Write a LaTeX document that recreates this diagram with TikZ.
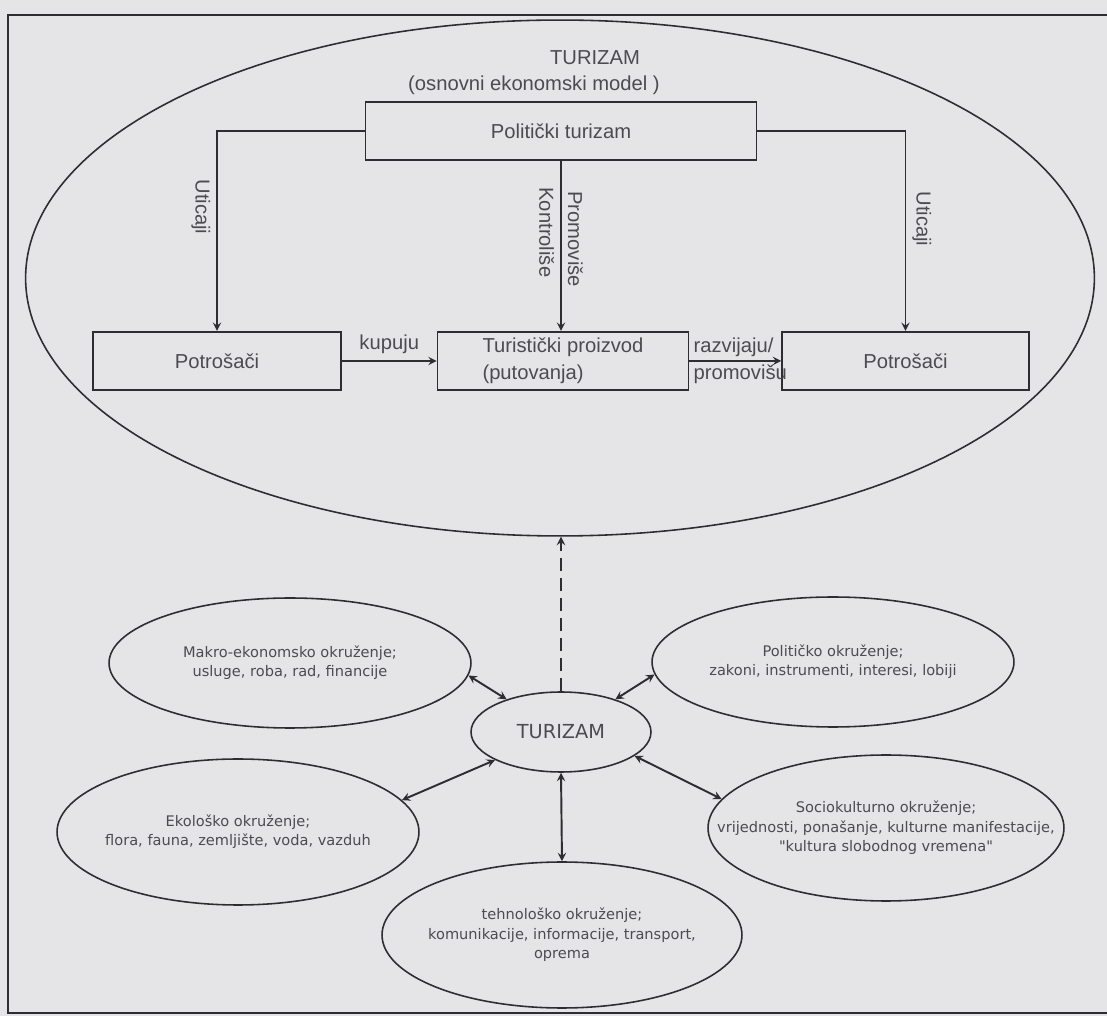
\documentclass[tikz,border=0pt]{standalone}
\usepackage{fontspec}
\setmainfont{Liberation Sans}
\newfontfamily\okrfont{DejaVu Sans}
\usepackage{tikz}
\usetikzlibrary{arrows, positioning, shapes.geometric}

\definecolor{papir}{RGB}{229,229,232}
\definecolor{linija}{RGB}{45,45,50}
\definecolor{tekst}{RGB}{75,75,80}

\tikzset{
  kutija/.style={draw, color=linija, line width=0.9pt, rectangle, minimum height=1.17cm, text=tekst, font=\fontsize{11.5}{15.4}\selectfont},
  okruzenje/.style={draw, color=linija, line width=0.9pt, ellipse, minimum width=7.24cm, minimum height=2.92cm, inner sep=0pt},
  okrtekst/.style={text=tekst, align=center, font=\okrfont\fontsize{8.3}{11}\selectfont},
  natpis/.style={text=tekst, font=\fontsize{11.5}{15.4}\selectfont},
  veza/.style={color=linija, line width=1.1pt},
}

\begin{document}
\begin{tikzpicture}[x=0.02cm, y=-0.02cm, auto]
\useasboundingbox (0,0) rectangle (1107,1016);
\fill[papir] (0,0) rectangle (1107,1016);
\draw[linija, line width=1pt] (1107,15) -- (8,15) -- (8,1013) -- (1107,1013);

% osnovni ekonomski model
\node[ellipse, draw, color=linija, line width=0.9pt, minimum width=21.38cm, minimum height=10.32cm] (model) at (560,278) {};
\node[natpis] (naslov) at (595,58) {TURIZAM};
\node[natpis] (podnaslov) at (534,85) {(osnovni ekonomski model )};

\node[kutija, minimum width=7.82cm] (P) at (561,131) {Politički turizam};
\node[kutija, minimum width=5.02cm, align=left] (T) at (563,361) {Turistički proizvod\\(putovanja)};
\node[kutija, minimum width=4.96cm] (K1) [left=1.9cm of T] {Potrošači};
\node[kutija, minimum width=4.94cm] (K2) [right=1.84cm of T] {Potrošači};

\draw[veza, ->, >=stealth] (P.west) -| node[natpis, pos=0.69, sloped, below] {Uticaji} (K1.north);
\draw[veza, ->, >=stealth] (P.east) -| node[natpis, pos=0.72, sloped, above] {Uticaji} (K2.north);
\draw[veza, ->, >=stealth] (P.south) -- node[natpis, pos=0.42, sloped, below] {Kontroliše}
  node[natpis, pos=0.46, sloped, above] {Promoviše} (P.south |- T.north);

\path[veza, ->, >=stealth] (K1) edge node[natpis] {kupuju} (T);
\path[veza, ->, >=stealth] (T) edge node[natpis, auto=false, align=left, xshift=0.1cm] {razvijaju/\\promovišu} (K2);

% okruzenje turizma
\node[ellipse, draw, color=linija, line width=0.9pt, minimum width=3.6cm, minimum height=1.6cm, inner sep=0pt, text=tekst, font=\okrfont\fontsize{11}{13}\selectfont] (Z) at (561,732) {TURIZAM};
\node[okruzenje, minimum height=2.6cm, label={[okrtekst]center:{Makro-ekonomsko okruženje;\\usluge, roba, rad, financije}}] (M) at (290,663) {};
\node[okruzenje, minimum height=2.6cm, label={[okrtekst]center:{Političko okruženje;\\zakoni, instrumenti, interesi, lobiji}}] (Pk) at (833,662) {};
\node[okruzenje, label={[okrtekst]center:{Ekološko okruženje;\\flora, fauna, zemljište, voda, vazduh}}] (E) at (238,832) {};
\node[okruzenje, minimum width=7.12cm, label={[okrtekst]center:{Sociokulturno okruženje;\\vrijednosti, ponašanje, kulturne manifestacije,\\"kultura slobodnog vremena"}}] (S) at (886,828) {};
\node[okruzenje, minimum width=7.2cm, label={[okrtekst]center:{tehnološko okruženje;\\komunikacije, informacije, transport,\\oprema}}] (Te) at (562,935) {};

\path[veza, <->, >=stealth] (Z.149) edge (M.-4);
\path[veza, <->, >=stealth] (Z.31) edge (Pk.184);
\path[veza, <->, >=stealth] (Z.203) edge (E.11);
\path[veza, <->, >=stealth] (Z.-18) edge (S.170);
\path[veza, <->, >=stealth] (Z.south) edge (Te.north);
\draw[veza, ->, >=stealth, dash pattern=on 7.4pt off 4pt] (Z.north) -- (Z.north |- model.south);
\end{tikzpicture}
\end{document}
